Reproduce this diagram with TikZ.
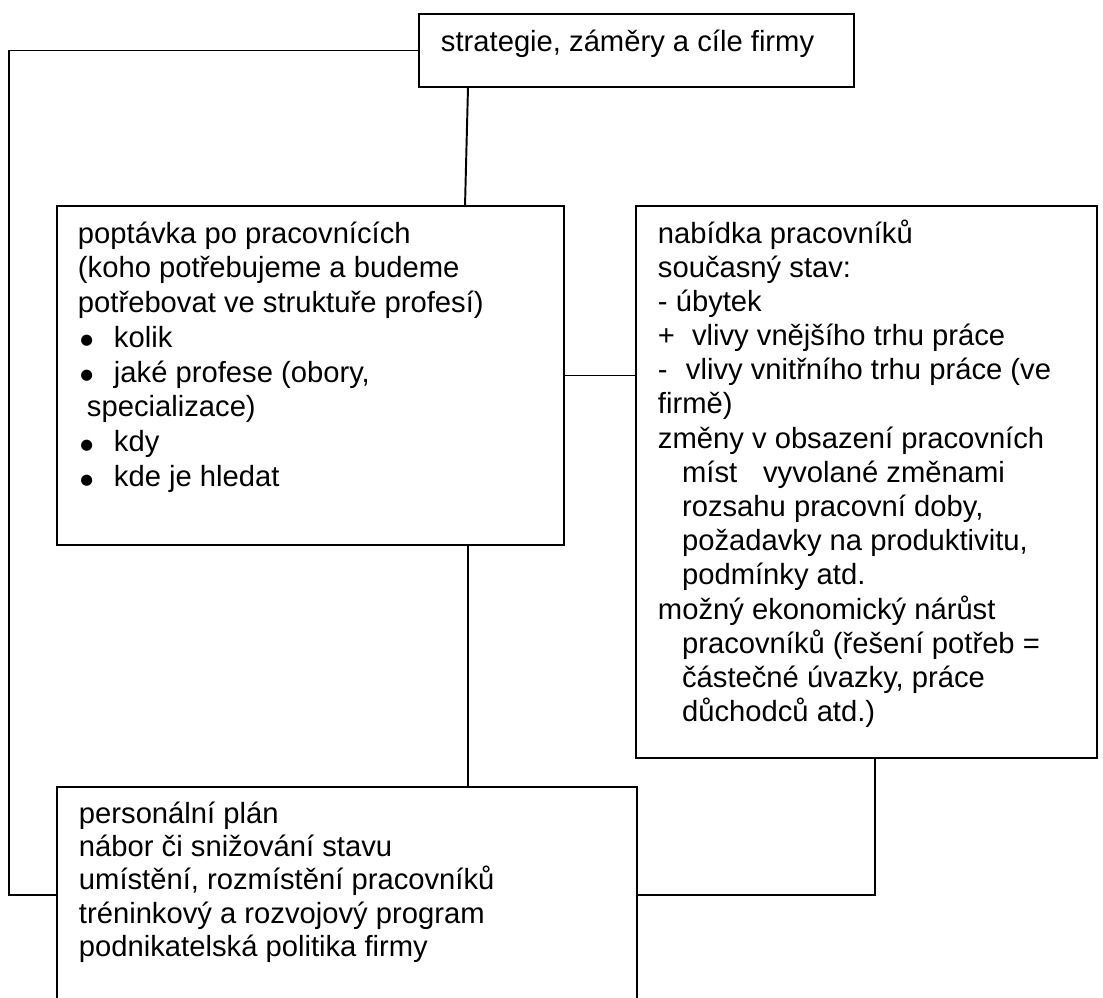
\documentclass[tikz,border=0pt]{standalone}
\usepackage{fontspec}
\setmainfont{Liberation Sans}
\newfontfamily\dotfont{DejaVu Sans}
\usetikzlibrary{calc}

% rows of left-aligned lines; the baseline of the box is that of the first row
\newcommand{\boxrows}[2]{\vtop{\baselineskip=#1\lineskiplimit=-30pt\lineskip=0pt
  \halign{##\hfil\cr#2\crcr}}}
\newcommand{\bul}{\makebox[14.8pt][l]{\hspace{1.0pt}\raisebox{1.0pt}{\dotfont\fontsize{6pt}{6pt}\selectfont ●}}}
\newcommand{\ind}{\hspace*{9.9pt}}

\begin{document}
\begin{tikzpicture}[x=0.411pt, y=-0.411pt, line width=0.8pt,
  frame/.style={draw, rectangle, inner sep=0pt, outer sep=0pt, anchor=north west},
  txt/.style={anchor=base west, inner sep=0pt, font=\fontsize{12pt}{14pt}\selectfont}]
\clip (0,0) rectangle (1103,997);

% boxes
\node[frame, minimum width=435*0.411pt, minimum height=73*0.411pt] (goals) at (419,14) {};
\node[frame, minimum width=507*0.411pt, minimum height=339*0.411pt] (demand) at (57,206) {};
\node[frame, minimum width=461*0.411pt, minimum height=552*0.411pt] (supply) at (636,206) {};
\node[frame, minimum width=580*0.411pt, minimum height=216*0.411pt] (plan) at (57,787) {};

% box texts
\node[txt] (goals-t) at ($(goals.north west)+(21,38)$) {strategie, záměry a cíle firmy};

\node[txt] (demand-t) at ($(demand.north west)+(20,37)$) {\boxrows{14.3pt}{%
poptávka po pracovnících\cr
(koho potřebujeme a budeme\cr
potřebovat ve struktuře profesí)\cr
\bul kolik\cr
\bul jaké profese (obory,\cr
\hspace*{3.7pt}specializace)\cr
\bul kdy\cr
\bul kde je hledat\cr}};

\node[txt] (supply-t) at ($(supply.north west)+(21,37)$) {\boxrows{14.05pt}{%
nabídka pracovníků\cr
současný stav:\cr
- úbytek\cr
\makebox[14pt][l]{+}vlivy vnějšího trhu práce\cr
\makebox[11.5pt][l]{-}vlivy vnitřního trhu práce (ve\cr
firmě)\cr
změny v obsazení pracovních\cr
\ind\makebox[33.3pt][l]{míst}vyvolané změnami\cr
\ind rozsahu pracovní doby,\cr
\ind požadavky na produktivitu,\cr
\ind podmínky atd.\cr
možný ekonomický nárůst\cr
\ind pracovníků (řešení potřeb =\cr
\ind částečné úvazky, práce\cr
\ind důchodců atd.)\cr}};

\node[txt] (plan-t) at ($(plan.north west)+(21,36)$) {\boxrows{13.7pt}{%
personální plán\cr
nábor či snižování stavu\cr
umístění, rozmístění pracovníků\cr
tréninkový a rozvojový program\cr
podnikatelská politika firmy\cr}};

% connectors
\coordinate (bendL) at (9,895);
\coordinate (bendR) at (875,895);
\draw (goals.west) -| (bendL) -- (bendL -| plan.west);
\draw ([xshift=49*0.411pt]goals.south west) -- ([xshift=408*0.411pt]demand.north west);
\draw (demand.east) -- (demand.east -| supply.west);
\draw ([xshift=411*0.411pt]demand.south west) -- ([xshift=411*0.411pt]demand.south west |- plan.north);
\draw (supply.south -| bendR) -- (bendR) -- (bendR -| plan.east);
\end{tikzpicture}
\end{document}
